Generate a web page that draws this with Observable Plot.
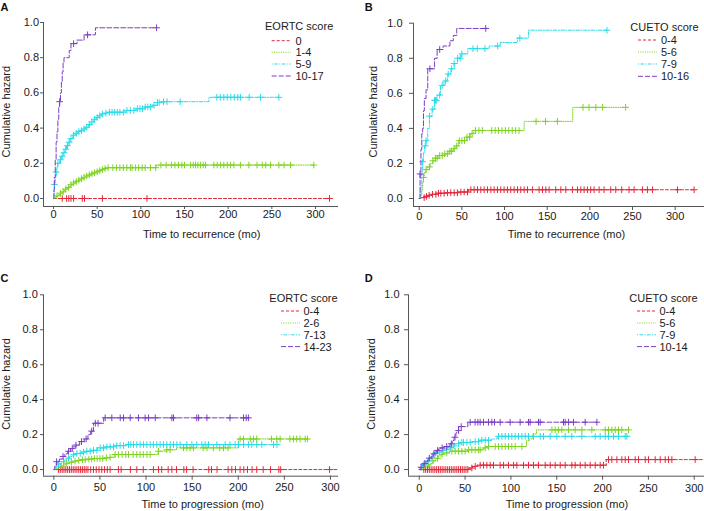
<!DOCTYPE html>
<html><head><meta charset="utf-8">
<script src="https://cdn.jsdelivr.net/npm/d3@7"></script>
<script src="https://cdn.jsdelivr.net/npm/@observablehq/plot@0.6"></script>
<style>
body{margin:0;background:#fff;}
#wrap{position:relative;width:704px;height:511px;overflow:hidden;background:#fff;}
.panel{position:absolute;}
</style></head><body><div id="wrap"></div>
<script>
// ---------- shared tick values / labels ----------
const xTicks = [0, 50, 100, 150, 200, 250, 300];
const yTicks = [0, 0.2, 0.4, 0.6, 0.8, 1.0];
const yLabel = "Cumulative hazard";
const xLabelRec = "Time to recurrence (mo)";
const xLabelProg = "Time to progression (mo)";
const seriesColors = ["#E4283A", "#7ED321", "#2ADBE8", "#7B3FC4"];
const seriesDash = ["3,2", "1,1.3", "1,1.5,3.5,1.5", "5,2"];

// ---------- Panel A: EORTC score, recurrence ----------
const A_groups = ["0", "1-4", "5-9", "10-17"];
const A0_t = [0]; const A0_h = [0];
const A0_c = [10,15,17.5,20,23,33,35.5,56,107,316];
const A1_t = [0,2,4,6,8,10,12,14,16,18,20,23,26,29,32,35,38,41,44,47,50,53,56,59,62,118];
const A1_h = [0,.008,.015,.022,.03,.038,.046,.054,.062,.07,.078,.088,.096,.104,.112,.12,.128,.134,.14,.146,.152,.158,.164,.17,.175,.19];
const A1_c = [4,8,11,14,17,20,23,26,29,32,35,38,41,44,47,50,53,56,59,62.5,68,72,76,80,84,88,90,94,97.6,101.5,105,111,117,123,129,135,139,143,147,150,157,160,162.6,165.3,168.4,171.4,174,183.6,187.4,191.3,195,199,202.7,206.5,214,223.7,233,239,243,248.5,258,264,271.4,298];
const A2_t = [0,0.5,1,2,3,4,5,7,9,11,13,15,17,19,22,25,28,31,34,37,40,43,46,49,52,55,58,61,82,94,105,113,119,123,178];
const A2_h = [0,.03,.08,.12,.15,.18,.2,.22,.24,.26,.28,.30,.32,.34,.36,.37,.38,.385,.395,.405,.42,.435,.45,.46,.47,.48,.485,.49,.50,.51,.52,.53,.545,.55,.575];
const A2_c = [1,3,5,8,10,12,14,16,18,20,23,26,29,32,35,38,41,44,47,50,53,56,60,64,67,70,73,76,80,84,88,92,96,99,102,105,108,111,115,119,121,126,130,145,187,191,195,199,203,207,211,214,224,237,258];
const A3_t = [0,0.5,1,2,3,4,5,6,7,8,9,10,11,12,18,20,27,35,48];
const A3_h = [0,.05,.12,.22,.32,.38,.45,.52,.55,.6,.66,.72,.77,.80,.84,.88,.90,.93,.97];
const A3_c = [7,23,39,118];

// ---------- Panel B: CUETO score, recurrence ----------
const B_groups = ["0-4", "5-6", "7-9", "10-16"];
const B0_t = [0,2,6,10,15,20,30,45,58];
const B0_h = [0,.005,.012,.018,.024,.03,.033,.037,.05];
const B0_c = [5.8,8.5,11.6,15.5,19.5,22.6,25.3,29.2,33.1,37,41,44.8,48.8,52.7,56.6,60.5,64.4,68.3,72.2,76.1,80,84,87.8,91.7,95.6,99.5,103.4,107.3,111.3,115.2,119,123,126.9,132.7,140.5,144.5,148.4,152.3,160,166,171.8,179.6,185.5,189.4,193.3,197.2,201,205,210.9,216.7,224.5,230.4,237.4,246,251.9,261.6,267.5,273.4,302.7,322.2];
const B1_t = [0,2,3,4,5,6,8,10,13,16,19,22,30,35,40,43,46,56,60,64,123,180];
const B1_h = [0,.02,.05,.09,.12,.15,.165,.18,.2,.215,.23,.245,.255,.27,.285,.30,.33,.35,.37,.388,.44,.52];
const B1_c = [5,8,12,16,19,21,24,27,30,33,36,38,41,44,47,50,53,56,59,62,66,70,74,85,89,93,97,101,105,109,113,117,137,148,162,192,199,207,215,242];
const B2_t = [0,1,2,3,4,5,6,8,10,12,15,18,21,25,29,33,37,41,45,49,57,82,95,115,128];
const B2_h = [0,.03,.07,.14,.21,.26,.30,.33,.40,.47,.51,.56,.59,.645,.67,.71,.74,.77,.80,.825,.855,.87,.89,.915,.96];
const B2_c = [4,7,8,12,16,18,19,20,24,27,31,34,38,41,45,48,50,63,68,77,92,118,220];
const B3_t = [0,1,2,3,4,5,6,8,10,18,21,28,36,40,44];
const B3_h = [0,.14,.28,.37,.40,.50,.57,.62,.74,.80,.85,.87,.90,.93,.97];
const B3_c = [1,12.5,24,78];

// ---------- Panel C: EORTC score, progression ----------
const C_groups = ["0-4", "2-6", "7-13", "14-23"];
const C0_t = [0]; const C0_h = [0];
const C0_c = [5,7,9,11,13,15,17,19,21,23,25,27,29,31,33,35,37,40,43,46,49,52,55,58,61,70,73,83,90,97,108,113.5,117,124,128,133,141,144,151,168,171,177,189,193,197,202,206,210,215,220,227,235,244,246,299,312];
const C1_t = [0,2,5,8,11,14,17,21,25,29,35,42,54,61,66,113,122,133,200];
const C1_h = [0,.005,.012,.02,.028,.036,.042,.048,.052,.056,.06,.063,.067,.07,.086,.105,.113,.124,.175];
const C1_c = [8,14,19,23,27,31,34,38,41,44,47,50,53,57,61,66.5,70,74,78,81,86,90,93.6,97,101,104.5,113.5,122.5,126,140.6,144.2,147.8,151.4,162,166,173,180,184,189,202,205.7,213,216.5,220,236,241.8,245.4,256,259.8,263.4,267,272.6,275];
const C2_t = [0,1,3,5,8,11,14,17,21,25,29,35,40,47,57,65,78];
const C2_h = [0,.01,.02,.032,.045,.055,.065,.075,.085,.092,.1,.105,.11,.124,.13,.137,.143];
const C2_c = [5,10.5,16,21.4,25,28.6,32.2,35.8,39.4,43,46.7,50.3,53.9,57.5,61.1,64.7,68.3,71.9,75.6,81,83.5,86.4,90,93.6,97.3,100.9,104.5,108,111.7,115.3,118.9,122.5,126.2,129.8,133.4,137,144.2,149.7,155,160.5,164,167.7,176.8,185.8,191,196.6,200.3,205.7,211,214.7,220.1,225.5,238.2,242];
const C3_t = [0,1,3,6,9,12,15,18,21,24,28,33,37,40,43,54];
const C3_h = [0,.02,.045,.06,.075,.09,.105,.12,.13,.14,.16,.175,.2,.22,.265,.296];
const C3_c = [3,10,16,20,24,30,35,41,45,48,55.7,62.9,72,75.6,82.8,91.8,99,102.7,110,128,129.8,155,157,166,191,205.7,208.6,211];

// ---------- Panel D: CUETO score, progression ----------
const D_groups = ["0-4", "5-6", "7-9", "10-14"];
const D0_t = [0,54,58,63,204];
const D0_h = [0,.009,.018,.025,.057];
const D0_c = [5,7,9,11,13,15,17,19,21,23,25,27,29,31,33,35,37,39,41,43,45,47,49,51,53,57.4,61.1,66.5,70.1,73.8,77.4,81,88.3,92,97.4,102.9,106.5,113.8,119.2,124.7,130.1,137.4,142.9,148.3,153.8,159.2,166.5,170.1,175.6,181,186.5,192,197.4,201,206.5,210.1,215.6,221,224.7,228.3,235.6,239.2,246.5,250.1,257.4,262.9,268.3,271.9,275.6,301,316];
const D1_t = [0,3,6,9,12,15,18,21,24,27,33,53,70,74,117,120,124,128];
const D1_h = [0,.008,.016,.026,.036,.05,.064,.078,.088,.095,.105,.113,.124,.132,.166,.176,.204,.227];
const D1_c = [10,15,20,25,30,35.6,39.2,42.9,46.5,50.1,53.8,57.4,61,64.7,66.5,71.9,75.6,82.9,86.5,90.2,93.8,97.4,101,104.7,112,144.7,148.3,151.9,155.6,162.9,170.1,177.4,188.3,202.9,206.5,210.1,213.8,217.4,221,228.3];
const D2_t = [0,1,3,5,7,9,11,13,15,17,20,24,28,33,37,39,46,57,65,79,85];
const D2_h = [0,.01,.02,.03,.04,.05,.06,.07,.08,.095,.1,.108,.116,.126,.135,.148,.155,.16,.168,.175,.19];
const D2_c = [5,10,14,18,22,26,30,34,38,42.9,46.5,48.3,52,55.6,61,64.7,68.3,72,75.6,86.5,90.2,93.8,97.4,101,104.7,108.3,112,115.6,119.2,124.7,132,135.6,142.9,150.1,159.2,166.5,177.4,192,197.4,202.9,206.5,212,217.4,224.7,226.5];
const D3_t = [0,1,3,5,7,9,11,13,15,17,19,21,23,28,33,36,38,40,41,43,53];
const D3_h = [0,.013,.025,.035,.045,.055,.065,.075,.09,.1,.109,.118,.124,.132,.147,.166,.185,.21,.223,.246,.271];
const D3_c = [2,6,11,16,20,25,30,35,39,42.9,45.8,55.6,61,64,66.5,70.1,75.6,79.2,82.1,88.3,99.2,110.1,119.2,121,130.1,132,157.4,159.2,162.9,168.3,181,193.8];

// ---------- layout ----------
const FONT = "'Liberation Sans', Arial, Helvetica, sans-serif";
const panels = [
  {letter:"A", left:0, top:0, w:352, h:255, mL:43, mR:14, mT:22, mB:49, xDom:[-11.45,326.3], yDom:[-0.0455,1],
   xTick:[3,1], yTick:[3,1.5], title:"EORTC score", groups:A_groups, xLabel:xLabelRec,
   series:[[A0_t,A0_h,A0_c],[A1_t,A1_h,A1_c],[A2_t,A2_h,A2_c],[A3_t,A3_h,A3_c]],
   letterPos:[0.5,10.5], xLabPos:[201.7,237.5], yLabPos:[10,111.7],
   leg:{tx:265, ty:30, rows:[40.7,52.3,64,76], l1:271.7, l2:290.7, lx:295.5}},
  {letter:"B", left:352, top:0, w:352, h:255, mL:61, mR:0, mT:22.7, mB:49, xDom:[-6.7,334.4], yDom:[-0.0456,1],
   xTick:[4,2], yTick:[4,7], title:"CUETO score", groups:B_groups, xLabel:xLabelRec,
   series:[[B0_t,B0_h,B0_c],[B1_t,B1_h,B1_c],[B2_t,B2_h,B2_c],[B3_t,B3_h,B3_c]],
   letterPos:[12.7,10.5], xLabPos:[214.5,237.5], yLabPos:[25,111.7],
   leg:{tx:278.3, ty:30.5, rows:[40,52,64,76.3], l1:286, l2:305, lx:309}},
  {letter:"C", left:0, top:255, w:352, h:256, mL:43, mR:14, mT:39.3, mB:35.3, xDom:[-11.2,308.7], yDom:[-0.038,1],
   xTick:[4,3], yTick:[3,2.7], title:"EORTC score", groups:C_groups, xLabel:xLabelProg,
   series:[[C0_t,C0_h,C0_c],[C1_t,C1_h,C1_c],[C2_t,C2_h,C2_c],[C3_t,C3_h,C3_c]],
   letterPos:[0.5,26.5], xLabPos:[202.8,252.5], yLabPos:[9.5,129],
   leg:{tx:269.3, ty:46.5, rows:[56,68,79.8,91.6], l1:281, l2:300, lx:303.5}},
  {letter:"D", left:352, top:255, w:352, h:256, mL:56, mR:0, mT:39.3, mB:35.3, xDom:[-11.7,311.2], yDom:[-0.038,1],
   xTick:[4,3.5], yTick:[4,5], title:"CUETO score", groups:D_groups, xLabel:xLabelProg,
   series:[[D0_t,D0_h,D0_c],[D1_t,D1_h,D1_c],[D2_t,D2_h,D2_c],[D3_t,D3_h,D3_c]],
   letterPos:[12.7,26.5], xLabPos:[215,252.5], yLabPos:[23,129],
   leg:{tx:277.3, ty:46.5, rows:[56,68,79.8,91.6], l1:285, l2:304, lx:307.5}}
];

function stepAt(t, h, x) {
  let v = h[0];
  for (let i = 0; i < t.length; i++) if (t[i] <= x) v = h[i];
  return v;
}

const wrap = document.getElementById("wrap");
for (const p of panels) {
  const marks = [
    Plot.ruleX([p.xDom[0]], {stroke:"#555", strokeWidth:1}),
    Plot.ruleY([p.yDom[0]], {stroke:"#555", strokeWidth:1}),
    Plot.axisX({ticks:xTicks, tickFormat:d => String(d), tickSize:p.xTick[0], tickPadding:p.xTick[1], label:null, stroke:"#555", fill:"#1a1a1a"}),
    Plot.axisY({ticks:yTicks, tickFormat:d3.format(".1f"), tickSize:p.yTick[0], tickPadding:p.yTick[1], label:null, stroke:"#555", fill:"#1a1a1a"})
  ];
  p.series.forEach(([t, h, c], k) => {
    const end = Math.max(t[t.length - 1], d3.max(c));
    const pts = t.map((x, i) => ({x, y:h[i]})).concat([{x:end, y:h[h.length - 1]}]);
    const cens = c.map(x => ({x, y:stepAt(t, h, x)}));
    marks.push(Plot.line(pts, {x:"x", y:"y", curve:"step-after", stroke:seriesColors[k], strokeWidth:1, strokeDasharray:seriesDash[k], clip:true}));
    marks.push(Plot.dot(cens, {x:"x", y:"y", symbol:"plus", r:2.3, stroke:seriesColors[k], strokeWidth:1, clip:true}));
  });
  const chart = Plot.plot({
    width:p.w, height:p.h,
    marginLeft:p.mL, marginRight:p.mR, marginTop:p.mT, marginBottom:p.mB,
    x:{domain:p.xDom}, y:{domain:p.yDom},
    style:{fontFamily:FONT, fontSize:"11px", color:"#1a1a1a", background:"transparent", overflow:"hidden"},
    marks
  });
  const svg = d3.select(chart);
  // panel letter
  svg.append("text").attr("x", p.letterPos[0]).attr("y", p.letterPos[1]).attr("text-anchor", "start")
    .attr("font-size", "11px").attr("font-weight", "bold").attr("fill", "#111").text(p.letter);
  // axis titles
  svg.append("text").attr("x", p.xLabPos[0]).attr("y", p.xLabPos[1]).attr("text-anchor", "middle")
    .attr("font-size", "11px").attr("fill", "#1a1a1a").text(p.xLabel);
  svg.append("text").attr("transform", `translate(${p.yLabPos[0]},${p.yLabPos[1]}) rotate(-90)`)
    .attr("text-anchor", "middle").attr("font-size", "11px").attr("fill", "#1a1a1a").text(yLabel);
  // legend
  const g = svg.append("g").attr("font-size", "11px").attr("fill", "#1a1a1a").attr("text-anchor", "start");
  g.append("text").attr("x", p.leg.tx).attr("y", p.leg.ty).attr("text-anchor", "start").text(p.title);
  p.groups.forEach((name, k) => {
    const y = p.leg.rows[k];
    g.append("line").attr("x1", p.leg.l1).attr("x2", p.leg.l2).attr("y1", y).attr("y2", y)
      .attr("stroke", seriesColors[k]).attr("stroke-width", 1).attr("stroke-dasharray", seriesDash[k]);
    g.append("text").attr("x", p.leg.lx).attr("y", y + 4).attr("text-anchor", "start").text(name);
  });
  const div = document.createElement("div");
  div.className = "panel";
  div.style.left = p.left + "px"; div.style.top = p.top + "px";
  div.style.width = p.w + "px"; div.style.height = p.h + "px";
  div.appendChild(chart);
  wrap.appendChild(div);
}
</script>
</body></html>
